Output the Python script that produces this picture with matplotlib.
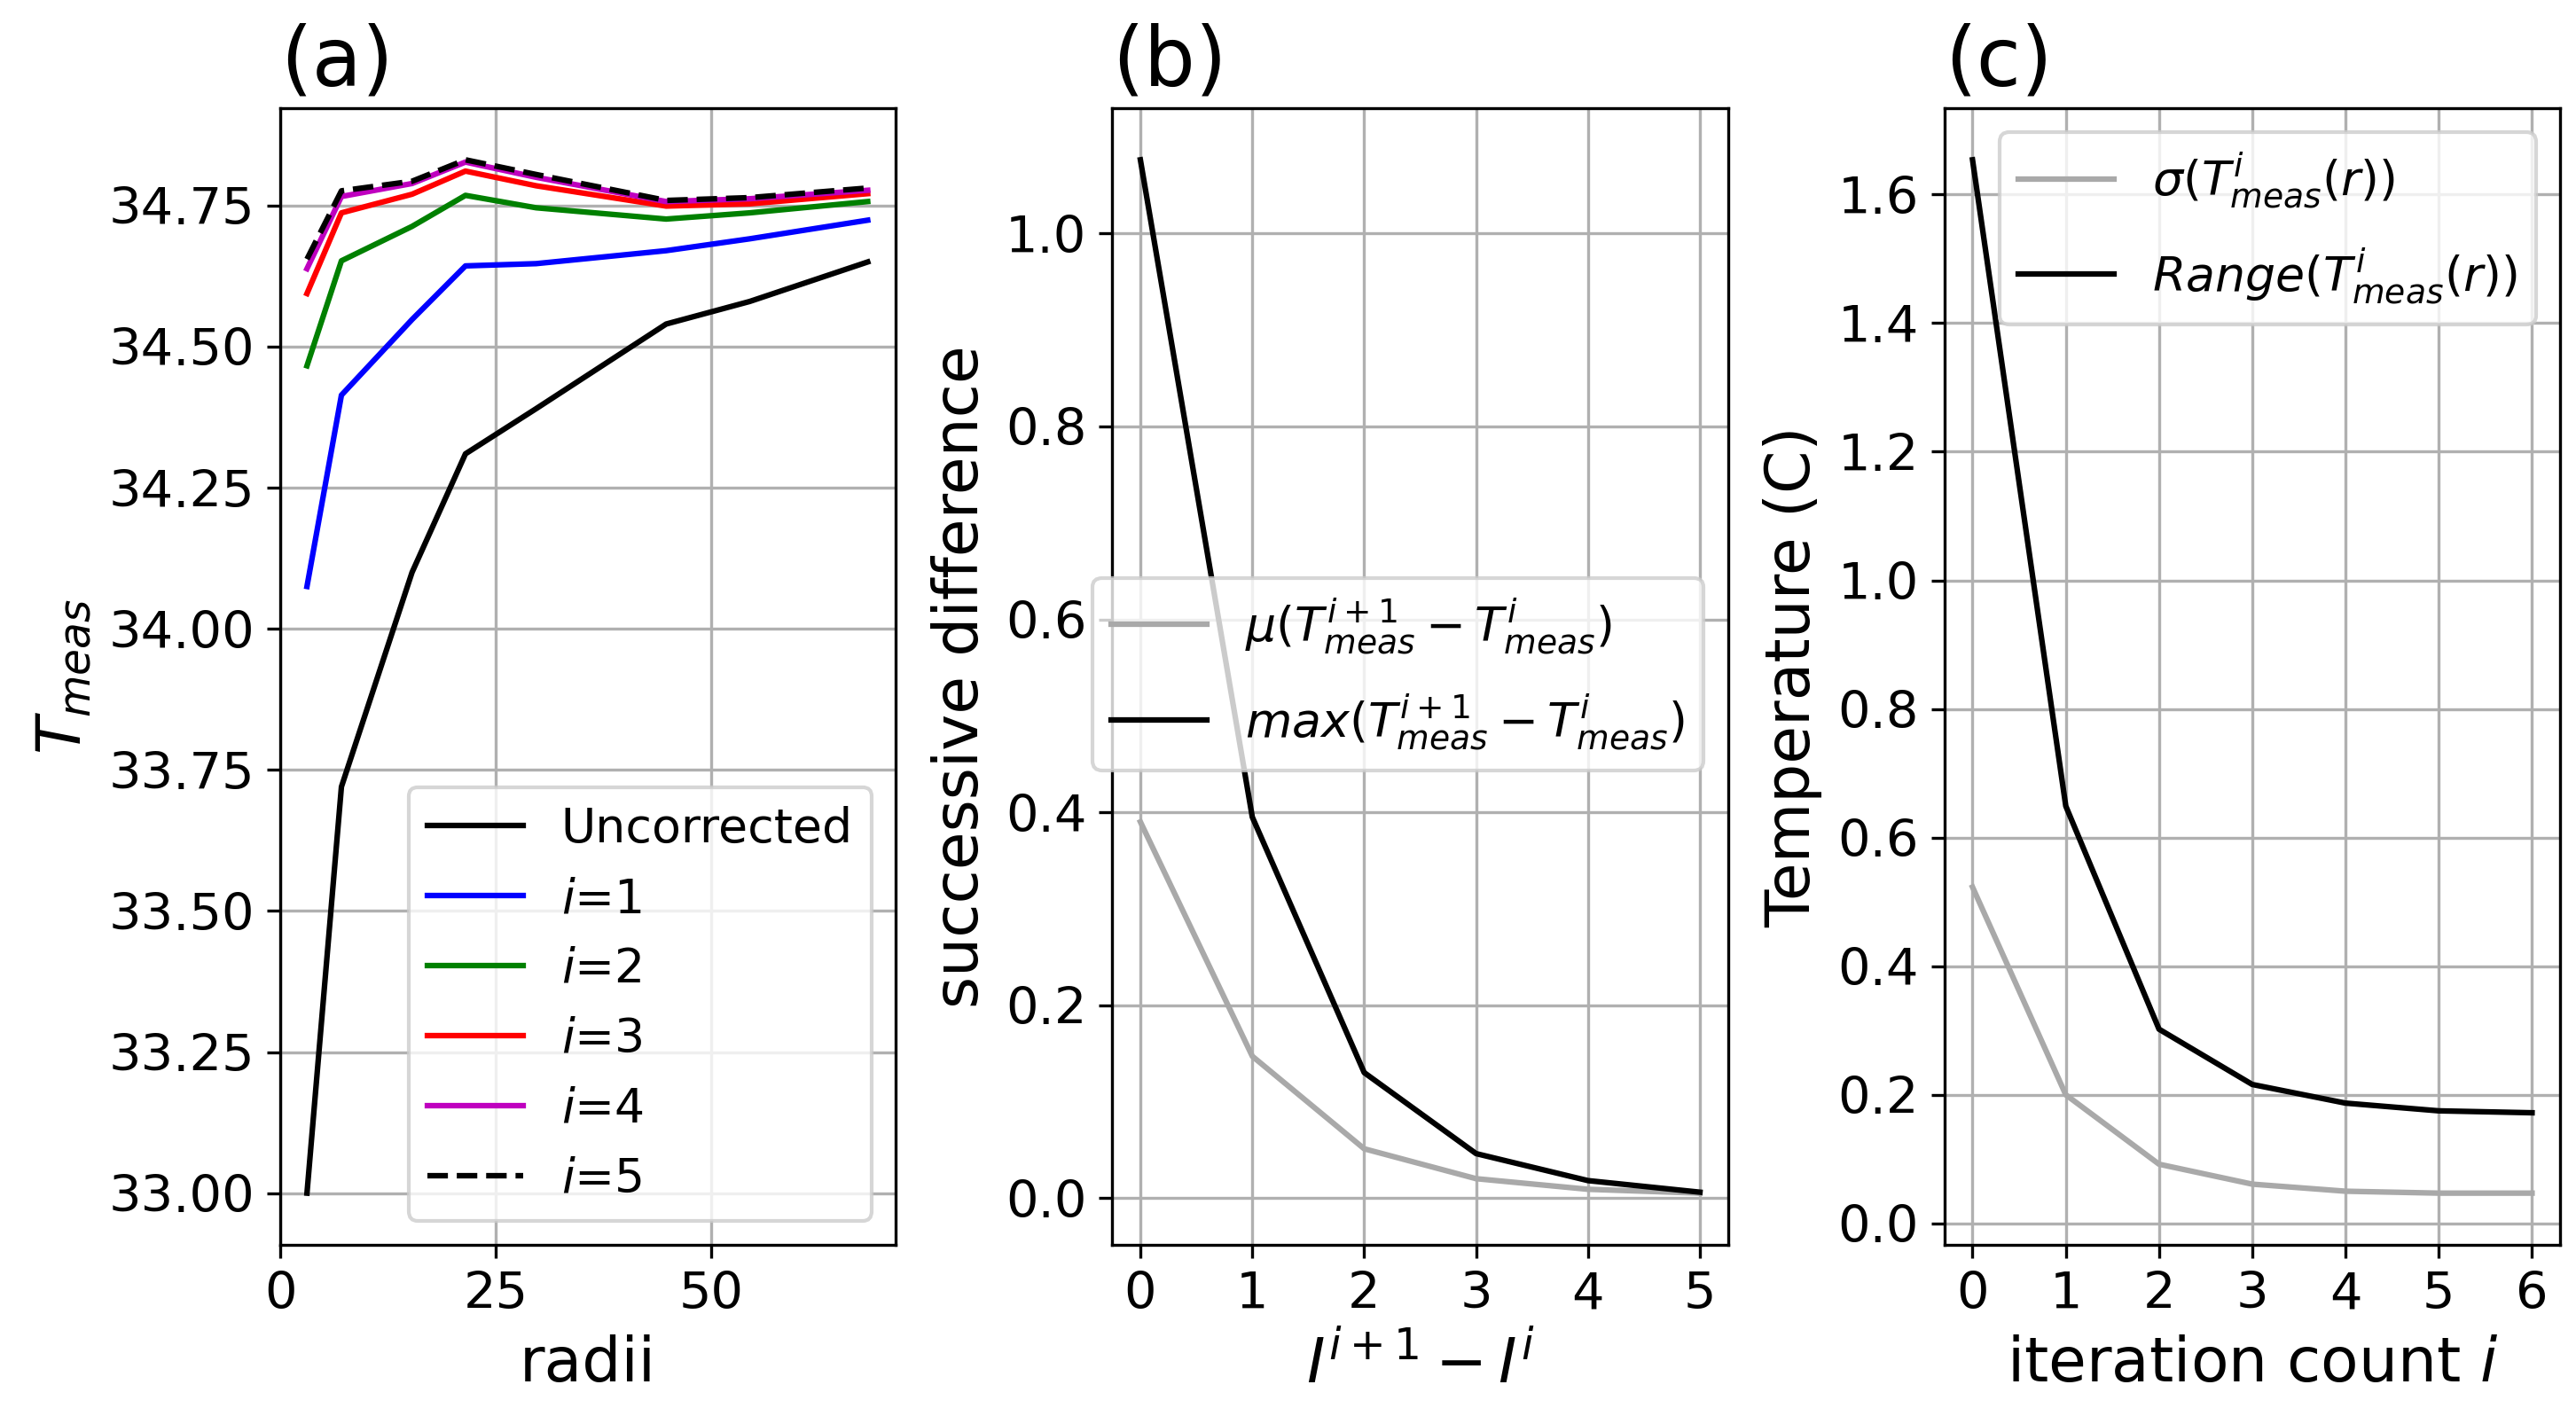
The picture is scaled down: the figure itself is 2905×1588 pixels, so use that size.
import numpy as np
import matplotlib
matplotlib.use("Agg")
import matplotlib.pyplot as plt

# (a) T_meas vs radii for each correction pass
radii = [3.1, 7.1, 15.3, 21.5, 29.7, 44.8, 54.5, 68.2]
t_uncorr = [33.00, 33.72, 34.10, 34.31, 34.39, 34.54, 34.58, 34.65]
t_i1 = [34.075, 34.414, 34.548, 34.643, 34.647, 34.670, 34.691, 34.724]
t_i2 = [34.466, 34.652, 34.713, 34.768, 34.746, 34.726, 34.737, 34.757]
t_i3 = [34.594, 34.737, 34.770, 34.811, 34.785, 34.749, 34.753, 34.771]
t_i4 = [34.638, 34.766, 34.789, 34.827, 34.800, 34.757, 34.762, 34.777]
t_i5 = [34.655, 34.776, 34.793, 34.831, 34.805, 34.759, 34.764, 34.781]

# (b) successive differences
step = [0, 1, 2, 3, 4, 5]
diff_mean = [0.390, 0.147, 0.051, 0.020, 0.009, 0.005]
diff_max = [1.0765, 0.395, 0.130, 0.046, 0.018, 0.006]

# (c) spread vs iteration count
iters = [0, 1, 2, 3, 4, 5, 6]
t_std = [0.523, 0.200, 0.092, 0.061, 0.050, 0.047, 0.047]
t_range = [1.654, 0.649, 0.302, 0.216, 0.187, 0.175, 0.172]

# tick positions
xt_a = [0, 25, 50]
yt_a = [33.00, 33.25, 33.50, 33.75, 34.00, 34.25, 34.50, 34.75]
yt_b = [0.0, 0.2, 0.4, 0.6, 0.8, 1.0]
yt_c = [0.0, 0.2, 0.4, 0.6, 0.8, 1.0, 1.2, 1.4, 1.6]

tick_fs = 13.8
leg_fs = 12.9
lab_fs = 16.7
title_fs = 22
grey = 'darkgray'

fig, axs = plt.subplots(1, 3, figsize=(2905/300, 1588/300), dpi=300)
fig.subplots_adjust(left=0.1088, right=0.9938, top=0.9232, bottom=0.1159, wspace=0.352)

ax = axs[0]
ax.plot(radii, t_uncorr, 'k-', label='Uncorrected')
ax.plot(radii, t_i1, 'b-', label='$i$=1')
ax.plot(radii, t_i2, 'g-', label='$i$=2')
ax.plot(radii, t_i3, 'r-', label='$i$=3')
ax.plot(radii, t_i4, 'm-', label='$i$=4')
ax.plot(radii, t_i5, 'k--', label='$i$=5')
ax.set_xlim(left=0)
ax.set_xticks(xt_a)
ax.set_yticks(yt_a)
ax.set_xlabel('radii', fontsize=lab_fs)
ax.set_ylabel('$T_{meas}$', fontsize=lab_fs)
ax.set_title('(a)', loc='left', fontsize=title_fs)
ax.legend(loc='lower right', fontsize=leg_fs)

ax = axs[1]
ax.plot(step, diff_mean, '-', color=grey, label=r'$\mu(T^{i+1}_{meas}-T^{i}_{meas})$')
ax.plot(step, diff_max, 'k-', label=r'$max(T^{i+1}_{meas}-T^{i}_{meas})$')
ax.set_xticks(step)
ax.set_yticks(yt_b)
ax.set_xlabel('$I^{i+1}-I^{i}$', fontsize=lab_fs)
ax.set_ylabel('successive difference', fontsize=lab_fs)
ax.set_title('(b)', loc='left', fontsize=title_fs)
ax.legend(loc='center', bbox_to_anchor=(0.464, 0.502), fontsize=leg_fs,
          labelspacing=0.75)

ax = axs[2]
ax.plot(iters, t_std, '-', color=grey, label=r'$\sigma(T^{i}_{meas}(r))$')
ax.plot(iters, t_range, 'k-', label=r'$Range(T^{i}_{meas}(r))$')
ax.set_xticks(iters)
ax.set_yticks(yt_c)
ax.set_xlabel('iteration count $i$', fontsize=lab_fs)
ax.set_ylabel('Temperature (C)', fontsize=lab_fs)
ax.set_title('(c)', loc='left', fontsize=title_fs)
ax.legend(loc='upper right', fontsize=leg_fs, labelspacing=0.75)

for ax in axs:
    ax.grid(True)
    ax.tick_params(labelsize=tick_fs)

fig.savefig('out.png', dpi=300)
